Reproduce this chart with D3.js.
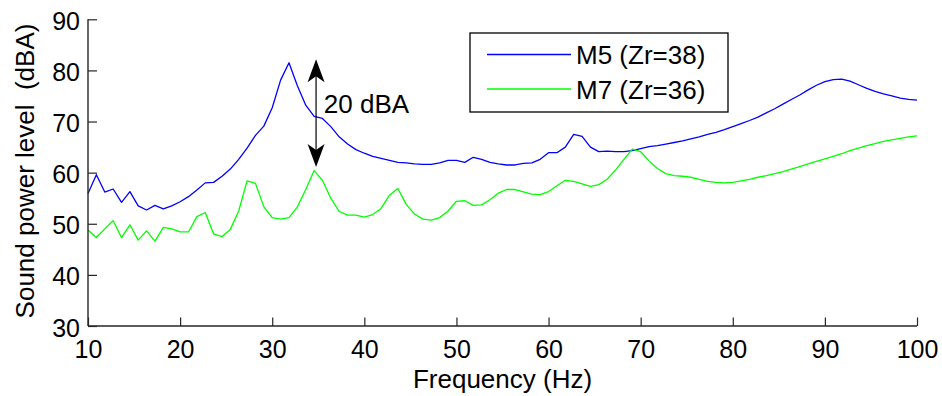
<!DOCTYPE html>
<html>
<head>
<meta charset="utf-8">
<script src="https://cdnjs.cloudflare.com/ajax/libs/d3/7.8.5/d3.min.js"></script>
<style>
  html, body { margin: 0; padding: 0; background: #fff; }
  svg { display: block; }
  text { font-family: "Liberation Sans", Arial, Helvetica, sans-serif; fill: #000; white-space: pre; }
</style>
</head>
<body>
<svg id="chart" width="942" height="396"></svg>
<script>
// ---- data ----
const frequencies = [
  10.00, 10.91, 11.82, 12.73, 13.64, 14.55, 15.45, 16.36, 17.27, 18.18,
  19.09, 20.00, 20.91, 21.82, 22.73, 23.64, 24.55, 25.45, 26.36, 27.27,
  28.18, 29.09, 30.00, 30.91, 31.82, 32.73, 33.64, 34.55, 35.45, 36.36,
  37.27, 38.18, 39.09, 40.00, 40.91, 41.82, 42.73, 43.64, 44.55, 45.45,
  46.36, 47.27, 48.18, 49.09, 50.00, 50.91, 51.82, 52.73, 53.64, 54.55,
  55.45, 56.36, 57.27, 58.18, 59.09, 60.00, 60.91, 61.82, 62.73, 63.64,
  64.55, 65.45, 66.36, 67.27, 68.18, 69.09, 70.00, 70.91, 71.82, 72.73,
  73.64, 74.55, 75.45, 76.36, 77.27, 78.18, 79.09, 80.00, 80.91, 81.82,
  82.73, 83.64, 84.55, 85.45, 86.36, 87.27, 88.18, 89.09, 90.00, 90.91,
  91.82, 92.73, 93.64, 94.55, 95.45, 96.36, 97.27, 98.18, 99.09, 100.00
];
const m5Values = [
  55.9, 59.6, 56.2, 56.8, 54.2, 56.3, 53.5, 52.7, 53.6, 52.9,
  53.5, 54.3, 55.3, 56.6, 58.0, 58.1, 59.3, 60.7, 62.6, 64.8,
  67.3, 69.1, 72.7, 78.1, 81.5, 77.0, 73.2, 71.0, 70.6, 69.0,
  67.0, 65.6, 64.5, 63.8, 63.2, 62.8, 62.4, 62.0, 61.9, 61.7,
  61.6, 61.6, 61.9, 62.4, 62.4, 62.0, 63.0, 62.6, 62.0, 61.7,
  61.5, 61.5, 61.8, 61.9, 62.6, 63.9, 63.9, 65.0, 67.5, 67.1,
  65.0, 64.1, 64.2, 64.1, 64.1, 64.3, 64.7, 65.1, 65.3, 65.6,
  65.9, 66.2, 66.6, 67.0, 67.5, 67.9, 68.4, 69.0, 69.6, 70.2,
  70.85, 71.7, 72.5, 73.4, 74.3, 75.2, 76.2, 77.1, 77.8, 78.2,
  78.3, 77.9, 77.2, 76.5, 75.9, 75.4, 75.0, 74.6, 74.35, 74.2
];
const m7Values = [
  48.8, 47.3, 49.0, 50.6, 47.3, 49.8, 46.8, 48.6, 46.6, 49.3,
  49.0, 48.4, 48.4, 51.4, 52.2, 48.0, 47.5, 48.9, 52.5, 58.4,
  57.9, 53.3, 51.2, 50.9, 51.2, 53.3, 56.7, 60.4, 58.5, 55.0,
  52.4, 51.7, 51.7, 51.3, 51.8, 53.0, 55.6, 56.9, 53.8, 51.9,
  50.9, 50.7, 51.2, 52.5, 54.4, 54.5, 53.6, 53.7, 54.7, 56.0,
  56.7, 56.7, 56.25, 55.8, 55.7, 56.3, 57.45, 58.5, 58.3, 57.8,
  57.3, 57.65, 58.7, 60.5, 62.6, 64.6, 64.1, 62.3, 60.8, 59.8,
  59.4, 59.3, 59.1, 58.7, 58.3, 58.1, 58.0, 58.1, 58.4, 58.7,
  59.1, 59.4, 59.8, 60.2, 60.7, 61.2, 61.7, 62.2, 62.7, 63.2,
  63.7, 64.3, 64.8, 65.3, 65.7, 66.1, 66.4, 66.7, 67.0, 67.2
];
const seriesNames = ["M5 (Zr=38)", "M7 (Zr=36)"];
const seriesColors = ["#0000ff", "#00ff00"];
const xTicks = [10, 20, 30, 40, 50, 60, 70, 80, 90, 100];
const yTicks = [30, 40, 50, 60, 70, 80, 90];
const xLabel = "Frequency (Hz)";
const yLabel = "Sound power level  (dBA)";
// annotation (data coordinates)
const arrowFreq = 34.76;
const arrowTop = 82.2;
const arrowBottom = 61.1;
const arrowText = "20 dBA";
const arrowTextFreq = 35.6;
const arrowTextLevel = 71.6;

// ---- layout ----
const svg = d3.select("#chart");
const pLeft = 88, pRight = 917, pTop = 19.3, pBottom = 326;
const x = d3.scaleLinear().domain([10, 100]).range([pLeft, pRight]);
const y = d3.scaleLinear().domain([30, 90]).range([pBottom, pTop]);

const series = [m5Values, m7Values].map((vals, k) => ({
  name: seriesNames[k], color: seriesColors[k],
  points: frequencies.map((f, i) => [f, vals[i]])
}));

const line = d3.line().x(d => x(d[0])).y(d => y(d[1]));

// lines
svg.append("g").selectAll("path").data(series).join("path")
  .attr("d", d => line(d.points))
  .attr("fill", "none")
  .attr("stroke", d => d.color)
  .attr("stroke-width", 1.3)
  .attr("stroke-linejoin", "round");

// axes
const axisColor = "#262626";
const xAxis = svg.append("g").attr("transform", `translate(0,${pBottom})`)
  .call(d3.axisBottom(x).tickValues(xTicks).tickSize(-8.5).tickPadding(0).tickFormat(d3.format("d")));
const yAxis = svg.append("g").attr("transform", `translate(${pLeft},0)`)
  .call(d3.axisLeft(y).tickValues(yTicks).tickSize(-9).tickPadding(0).tickFormat(d3.format("d")));
xAxis.select(".domain").attr("d", `M${pLeft},0H${pRight}`);
yAxis.select(".domain").attr("d", `M0,${pBottom}V${pTop}`);
[xAxis, yAxis].forEach(g => {
  g.select(".domain").attr("stroke", axisColor).attr("stroke-width", 1.4);
  g.selectAll(".tick line").attr("stroke", axisColor).attr("stroke-width", 1.2);
  g.selectAll(".tick text").attr("font-size", 25).attr("fill", "#000")
    .attr("font-family", '"Liberation Sans", Arial, sans-serif');
});
xAxis.selectAll(".tick text").attr("dy", null).attr("y", 32);
yAxis.selectAll(".tick text").attr("dy", null).attr("x", -8).attr("y", 10)
  .attr("text-anchor", "end");

// axis labels
svg.append("text")
  .attr("x", (pLeft + pRight) / 2).attr("y", 388)
  .attr("text-anchor", "middle").attr("font-size", 26)
  .text(xLabel);
svg.append("text")
  .attr("transform", `translate(33.5,${171}) rotate(-90)`)
  .attr("text-anchor", "middle").attr("font-size", 26)
  .attr("xml:space", "preserve")
  .text(yLabel);

// arrow annotation
const ax = x(arrowFreq), ay1 = y(arrowTop), ay2 = y(arrowBottom);
svg.append("line").attr("x1", ax).attr("x2", ax).attr("y1", ay1 + 10).attr("y2", ay2 - 10)
  .attr("stroke", "#000").attr("stroke-width", 1.2);
const head = (tipY, dir) => {
  const hl = 23, hw = 8.5, notch = 17;
  return `M${ax},${tipY} L${ax - hw},${tipY + dir * hl} L${ax},${tipY + dir * notch} L${ax + hw},${tipY + dir * hl} Z`;
};
svg.append("path").attr("d", head(ay1, 1)).attr("fill", "#000");
svg.append("path").attr("d", head(ay2, -1)).attr("fill", "#000");
svg.append("text").attr("x", x(arrowTextFreq)).attr("y", y(arrowTextLevel))
  .attr("font-size", 26).text(arrowText);

// legend
const lg = svg.append("g");
lg.append("rect").attr("x", 470).attr("y", 33).attr("width", 258).attr("height", 79)
  .attr("fill", "#fff").attr("stroke", "#000").attr("stroke-width", 1.3);
series.forEach((s, k) => {
  const ly = 54.5 + k * 34.5;
  lg.append("line").attr("x1", 487).attr("x2", 571).attr("y1", ly).attr("y2", ly)
    .attr("stroke", s.color).attr("stroke-width", 1.3);
  lg.append("text").attr("x", 576).attr("y", ly + 9.5).attr("font-size", 26).text(s.name);
});
</script>
</body>
</html>
